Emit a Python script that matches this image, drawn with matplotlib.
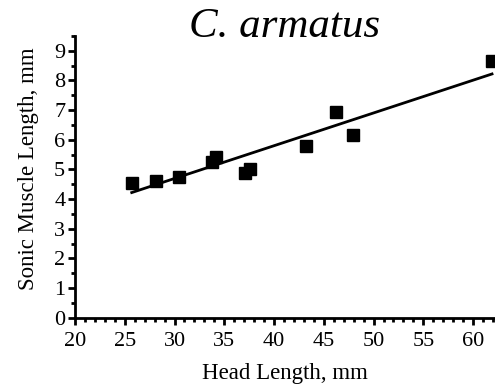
import numpy as np
import matplotlib.pyplot as plt
from matplotlib.ticker import MultipleLocator

plt.rcParams['font.family'] = ['Liberation Serif', 'DejaVu Serif']

# data
head_len = [25.7, 28.1, 30.4, 33.8, 34.2, 37.1, 37.6, 43.2, 46.2, 47.9, 61.9]
muscle_len = [4.55, 4.60, 4.75, 5.25, 5.41, 4.89, 5.00, 5.79, 6.95, 6.16, 8.66]

# regression line endpoints
fit_x = [25.7, 61.9]
fit_y = [4.22, 8.22]

fig = plt.figure(figsize=(4.95, 3.91), dpi=100)
ax = fig.add_axes([75/495, 1 - 317.7/391, 1 - 75/495, (317.7 - 36)/391])

ax.plot(fit_x, fit_y, color='black', lw=2)
ax.plot(head_len, muscle_len, 's', color='black', markersize=8, clip_on=False)

ax.set_xlim(20, 62.2)
ax.set_ylim(0, 9.5)
ax.xaxis.set_major_locator(MultipleLocator(5))
ax.xaxis.set_minor_locator(MultipleLocator(1))
ax.yaxis.set_major_locator(MultipleLocator(1))
ax.yaxis.set_minor_locator(MultipleLocator(0.5))

for s in ['top', 'right']:
    ax.spines[s].set_visible(False)
for s in ['left', 'bottom']:
    ax.spines[s].set_linewidth(2)

ax.tick_params(which='major', length=5, width=2, labelsize=16, pad=2)
ax.tick_params(axis='x', which='major', pad=5)
ax.tick_params(which='minor', length=3, width=2)

ax.set_xlabel('Head Length, mm', fontsize=16.5)
ax.xaxis.set_label_coords(0.5, -45/281.7, transform=ax.transAxes)
ax.set_ylabel('Sonic Muscle Length, mm', fontsize=16.5)
ax.yaxis.set_label_coords(-36/420, 0.53, transform=ax.transAxes)
fig.text(285/495, 1 - 37/391, 'C. armatus', fontsize=31, style='italic',
         ha='center', va='baseline')

fig.savefig('out.png', dpi=100)
